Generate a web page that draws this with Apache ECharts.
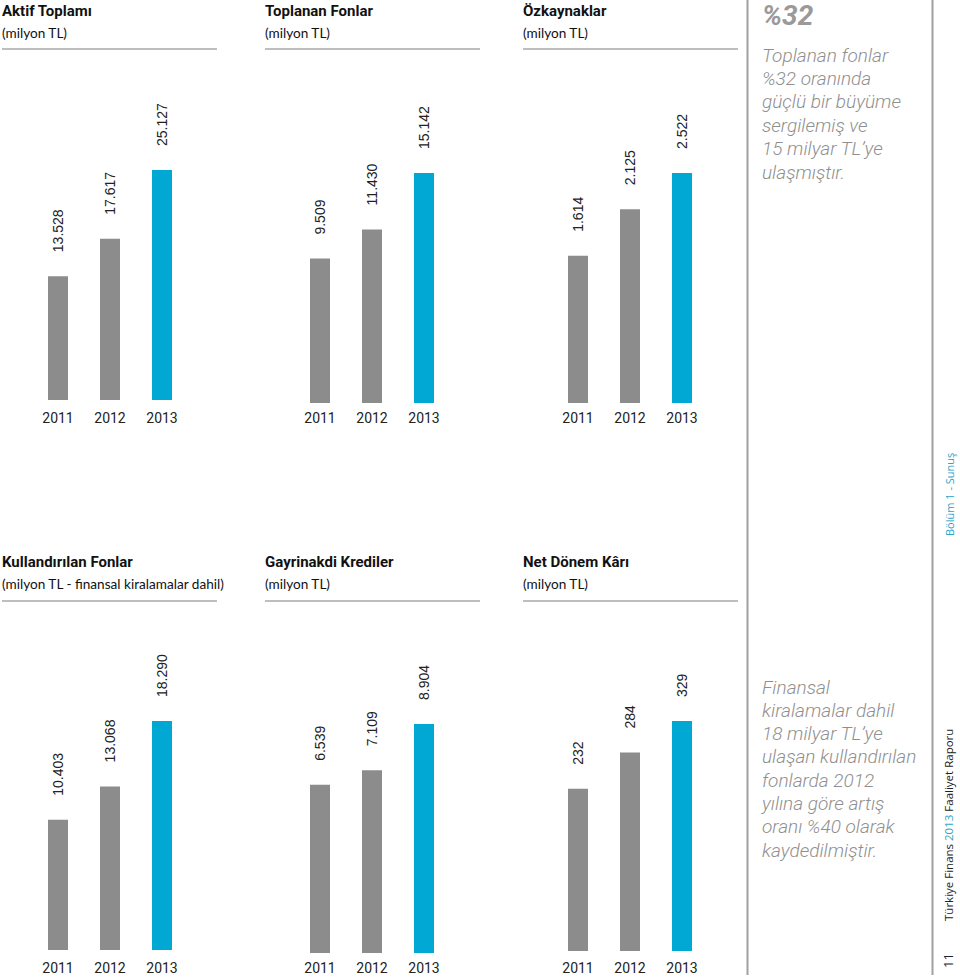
<!DOCTYPE html>
<html>
<head>
<meta charset="utf-8">
<script src="https://cdn.jsdelivr.net/npm/echarts@6/dist/echarts.min.js"></script>
<style>
html,body{margin:0;padding:0;background:#fff;}
#main{width:960px;height:977px;}
</style>
</head>
<body>
<div id="main"></div>
<script>
const years = ['2011', '2012', '2013'];
const aktifToplami = [13528, 17617, 25127];
const toplananFonlar = [9509, 11430, 15142];
const ozkaynaklar = [1614, 2125, 2522];
const kullandirilanFonlar = [10403, 13068, 18290];
const gayrinakdiKrediler = [6539, 7109, 8904];
const netDonemKari = [232, 284, 329];

const chartTitles = ['Aktif Toplamı', 'Toplanan Fonlar', 'Özkaynaklar', 'Kullandırılan Fonlar', 'Gayrinakdi Krediler', 'Net Dönem Kârı'];
const chartSubtitles = ['(milyon TL)', '(milyon TL)', '(milyon TL)', '(milyon TL - finansal kiralamalar dahil)', '(milyon TL)', '(milyon TL)'];
const sideTop = ['Toplanan fonlar', '%32 oranında', 'güçlü bir büyüme', 'sergilemiş ve', '15 milyar TL\u2019ye', 'ulaşmıştır.'];
const sideBottom = ['Finansal', 'kiralamalar dahil', '18 milyar TL\u2019ye', 'ulaşan kullandırılan', 'fonlarda 2012', 'yılına göre artış', 'oranı %40 olarak', 'kaydedilmiştir.'];

const allData = [aktifToplami, toplananFonlar, ozkaynaklar, kullandirilanFonlar, gayrinakdiKrediler, netDonemKari];

// layout
const gridLefts = [32, 294, 552];
const colTitleX = [2, 265, 523];
const rowLayout = [
  {tops: [170, 173, 173], bases: [400, 403, 403], labelY: 418, titleY: 11, subY: 33, lineY: 49},
  {tops: [721, 724, 721], bases: [950, 953, 951], labelY: 968, titleY: 562, subY: 584, lineY: 601}
];

const GRAY = '#8c8c8c';
const BLUE = '#00a8d3';

function fmt(v) {
  return String(v).replace(/\B(?=(\d{3})+(?!\d))/g, '.');
}

const grids = [], xAxes = [], yAxes = [], series = [], graphics = [];
for (let i = 0; i < 6; i++) {
  const r = Math.floor(i / 3), c = i % 3;
  const rl = rowLayout[r];
  grids.push({left: gridLefts[c], width: 156, top: rl.tops[c], height: rl.bases[c] - rl.tops[c]});
  xAxes.push({
    type: 'category', gridIndex: i, data: years,
    axisLine: {show: false}, axisTick: {show: false},
    axisLabel: {color: '#222', fontFamily: 'Roboto', fontSize: 14, margin: rl.labelY - rl.bases[c] - 7}
  });
  yAxes.push({type: 'value', gridIndex: i, min: 0, max: 'dataMax', show: false, splitLine: {show: false}});
  series.push({
    type: 'bar', xAxisIndex: i, yAxisIndex: i, data: allData[i], barWidth: 20,
    itemStyle: {color: p => p.dataIndex === 2 ? BLUE : GRAY},
    label: {
      show: true, position: 'top', rotate: 90, align: 'left', verticalAlign: 'middle', distance: 24,
      color: '#222', fontFamily: 'Liberation Sans', fontSize: 14,
      formatter: p => fmt(p.value)
    },
    silent: true, animation: false
  });
  graphics.push({type: 'text', x: colTitleX[c], y: rl.titleY, style: {text: chartTitles[i], font: 'bold 15px Roboto', fill: '#111', verticalAlign: 'middle'}});
  graphics.push({type: 'text', x: colTitleX[c], y: rl.subY, style: {text: chartSubtitles[i], font: '13.6px Lato', fill: '#111', verticalAlign: 'middle'}});
  graphics.push({type: 'line', shape: {x1: colTitleX[c], y1: rl.lineY, x2: colTitleX[c] + 215, y2: rl.lineY}, style: {stroke: '#a8a8a8', lineWidth: 1.5}});
}

// sidebar lines
graphics.push({type: 'line', shape: {x1: 747.5, y1: 0, x2: 747.5, y2: 975}, style: {stroke: '#a0a0a0', lineWidth: 2}});
graphics.push({type: 'line', shape: {x1: 932.5, y1: 0, x2: 932.5, y2: 975}, style: {stroke: '#a0a0a0', lineWidth: 2}});

graphics.push({type: 'text', x: 762, y: 15, style: {text: '%32', font: 'italic bold 28px Roboto', fill: '#9a9a9a', verticalAlign: 'middle'}});
sideTop.forEach((t, k) => {
  graphics.push({type: 'text', x: 762, y: 55 + k * 23.4, style: {text: t, font: 'italic 300 19px Roboto', fill: '#8f8f8f', verticalAlign: 'middle'}});
});
sideBottom.forEach((t, k) => {
  graphics.push({type: 'text', x: 762, y: 687 + k * 23.3, style: {text: t, font: 'italic 300 19px Roboto', fill: '#8f8f8f', verticalAlign: 'middle'}});
});

graphics.push({type: 'text', x: 949, y: 536, rotation: Math.PI / 2, style: {text: 'Bölüm 1 - Sunuş', font: '11px "Open Sans"', fill: '#2aa5c9', verticalAlign: 'middle', align: 'left'}});
graphics.push({type: 'text', x: 948, y: 921, rotation: Math.PI / 2, style: {
  text: '{a|Türkiye Finans }{b|2013}{a| Faaliyet Raporu}', verticalAlign: 'middle', align: 'left',
  rich: {a: {font: '11.5px "Open Sans"', fill: '#222', color: '#222'}, b: {font: '11.5px "Open Sans"', fill: '#2aa5c9', color: '#2aa5c9'}}
}});
graphics.push({type: 'text', x: 948, y: 968, rotation: Math.PI / 2, style: {text: '11', font: '13px "Open Sans"', fill: '#222', verticalAlign: 'middle', align: 'left'}});

const chart = echarts.init(document.getElementById('main'), null, {renderer: 'svg'});
chart.setOption({
  animation: false,
  grid: grids, xAxis: xAxes, yAxis: yAxes, series: series,
  graphic: graphics
});
</script>
</body>
</html>
